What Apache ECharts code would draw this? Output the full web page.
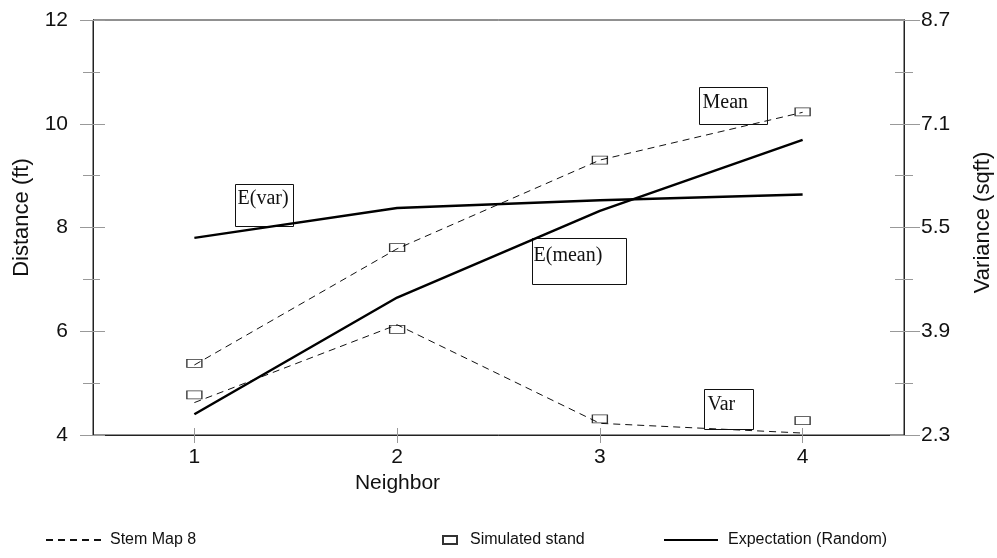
<!DOCTYPE html>
<html><head><meta charset="utf-8">
<script src="https://cdn.jsdelivr.net/npm/echarts@6/dist/echarts.min.js"></script>
<style>html,body{margin:0;padding:0;background:#fff}#c{width:997px;height:558px}</style>
</head><body><div id="c"></div>
<script>
const neighbors = ['1', '2', '3', '4'];
const stemMean = [5.35, 7.59, 9.30, 10.22];
const stemVar = [2.80, 4.00, 2.48, 2.33];
const simMean = [5.38, 7.61, 9.30, 10.23];
const simVar = [2.92, 3.93, 2.55, 2.52];
const expMean = [4.40, 6.65, 8.32, 9.69];
const expVar = [5.34, 5.80, 5.92, 6.01];
const distTicks = [4, 6, 8, 10, 12];
const varTicks = [2.3, 3.9, 5.5, 7.1, 8.7];

const SANS = 'Liberation Sans, Arial, sans-serif';
const SERIF = 'Liberation Serif, Times New Roman, serif';
const AX = '#222';
const TK = '#999';

const distInt = distTicks[1] - distTicks[0];
const varInt = Math.round((varTicks[1] - varTicks[0]) * 10) / 10;

function yAx(pos, ticksArr, interval, opts) {
  const base = {
    type: 'value', position: pos, min: ticksArr[0], max: ticksArr[ticksArr.length - 1],
    interval: interval, splitLine: { show: false },
    axisLine: { show: true, lineStyle: { color: AX, width: 1 } },
    minorTick: { show: true, splitNumber: 2, length: opts.minorLen, lineStyle: { color: TK, width: 1 } },
    axisTick: { show: true, inside: opts.inside, length: opts.len, lineStyle: { color: TK, width: 1 } },
    axisLabel: { show: !!opts.labels, margin: opts.margin || 8, fontFamily: SANS, fontSize: 21, color: '#111',
      formatter: opts.fmt }
  };
  return Object.assign(base, opts.extra || {});
}

const option = {
  animation: false,
  backgroundColor: '#fff',
  grid: { left: 93, right: 93, top: 20, bottom: 123, outerBoundsMode: 'none', containLabel: false,
    show: true, borderColor: AX, borderWidth: 1, backgroundColor: 'transparent' },
  xAxis: [
    { type: 'category', data: neighbors, position: 'bottom', boundaryGap: true,
      axisLine: { show: true, lineStyle: { color: AX, width: 1 } },
      axisTick: { show: true, alignWithLabel: true, length: 8, lineStyle: { color: TK, width: 1 } },
      axisLabel: { margin: 12, fontFamily: SANS, fontSize: 21, color: '#111' },
      name: 'Neighbor', nameLocation: 'middle', nameGap: 38,
      nameTextStyle: { fontFamily: SANS, fontSize: 21, color: '#111', padding: [0, 202, 0, 0] } },
    { type: 'category', data: neighbors, position: 'bottom', boundaryGap: true,
      axisLine: { show: false },
      axisTick: { show: true, inside: true, alignWithLabel: true, length: 7, lineStyle: { color: TK, width: 1 } },
      axisLabel: { show: false } }
  ],
  yAxis: [
    yAx('left', distTicks, distInt, { inside: false, len: 13, minorLen: 10, labels: true, margin: 25,
      fmt: v => String(v),
      extra: { name: 'Distance (ft)', nameLocation: 'middle', nameGap: 60, nameRotate: 90,
        nameTextStyle: { fontFamily: SANS, fontSize: 22, color: '#111', padding: [0, 0, 0, 20] } } }),
    yAx('left', distTicks, distInt, { inside: true, len: 12, minorLen: 7, labels: false }),
    yAx('right', varTicks, varInt, { inside: false, len: 16, minorLen: 9, labels: true, margin: 17,
      fmt: v => v.toFixed(1),
      extra: { name: 'Variance (sqft)', nameLocation: 'middle', nameGap: 68, nameRotate: 90,
        nameTextStyle: { fontFamily: SANS, fontSize: 22, color: '#111', padding: [0, 0, 0, 10] } } }),
    yAx('right', varTicks, varInt, { inside: true, len: 14, minorLen: 9, labels: false })
  ],
  legend: [
    { left: 40, top: 527, data: ['Stem Map 8'], itemWidth: 55, itemHeight: 10, selectedMode: false,
      itemStyle: { opacity: 0 },
      textStyle: { fontFamily: SANS, fontSize: 16, color: '#111', padding: [0, 0, 0, 4] } },
    { left: 437, top: 527, data: ['Simulated stand'], itemWidth: 14, itemHeight: 8, selectedMode: false,
      textStyle: { fontFamily: SANS, fontSize: 16, color: '#111', padding: [0, 0, 0, 8] } },
    { left: 658, top: 527, data: ['Expectation (Random)'], itemWidth: 54, itemHeight: 10, selectedMode: false,
      itemStyle: { opacity: 0 },
      textStyle: { fontFamily: SANS, fontSize: 16, color: '#111', padding: [0, 0, 0, 5] } }
  ],
  series: [
    { name: 'Stem Map 8', type: 'line', xAxisIndex: 0, yAxisIndex: 0, data: stemMean, symbol: 'none',
      itemStyle: { color: '#111' }, lineStyle: { color: '#111', width: 1, type: [7, 5] }, z: 3 },
    { name: 'Stem Map 8', type: 'line', xAxisIndex: 0, yAxisIndex: 2, data: stemVar, symbol: 'none',
      itemStyle: { color: '#111' }, lineStyle: { color: '#111', width: 1, type: [7, 5] }, z: 3 },
    { name: 'Simulated stand', type: 'scatter', xAxisIndex: 0, yAxisIndex: 0, data: simMean, symbol: 'rect',
      symbolSize: [15, 8], itemStyle: { color: 'rgba(255,255,255,0)', borderColor: '#000', borderWidth: 1 }, z: 4 },
    { name: 'Simulated stand', type: 'scatter', xAxisIndex: 0, yAxisIndex: 2, data: simVar, symbol: 'rect',
      symbolSize: [15, 8], itemStyle: { color: 'rgba(255,255,255,0)', borderColor: '#000', borderWidth: 1 }, z: 4 },
    { name: 'Expectation (Random)', type: 'line', xAxisIndex: 0, yAxisIndex: 0, data: expMean, symbol: 'none',
      itemStyle: { color: '#000' }, lineStyle: { color: '#000', width: 2.5 }, z: 3 },
    { name: 'Expectation (Random)', type: 'line', xAxisIndex: 0, yAxisIndex: 2, data: expVar, symbol: 'none',
      itemStyle: { color: '#000' }, lineStyle: { color: '#000', width: 2.5 }, z: 3 }
  ],
  graphic: [
    { type: 'group', left: 697, top: 85, z: 1, children: [
      { type: 'rect', shape: { x: 0, y: 0, width: 68, height: 37 }, style: { fill: 'none', stroke: '#111', lineWidth: 1 } },
      { type: 'text', x: 3, y: 5, style: { text: 'Mean', font: '20px ' + SERIF, fill: '#111' } } ] },
    { type: 'group', left: 233, top: 182, z: 1, children: [
      { type: 'rect', shape: { x: 0, y: 0, width: 58, height: 42 }, style: { fill: 'none', stroke: '#111', lineWidth: 1 } },
      { type: 'text', x: 2, y: 4, style: { text: 'E(var)', font: '20px ' + SERIF, fill: '#111' } } ] },
    { type: 'group', left: 530, top: 236, z: 1, children: [
      { type: 'rect', shape: { x: 0, y: 0, width: 94, height: 46 }, style: { fill: 'none', stroke: '#111', lineWidth: 1 } },
      { type: 'text', x: 1, y: 7, style: { text: 'E(mean)', font: '20px ' + SERIF, fill: '#111' } } ] },
    { type: 'group', left: 702, top: 387, z: 1, children: [
      { type: 'rect', shape: { x: 0, y: 0, width: 49, height: 40 }, style: { fill: 'none', stroke: '#111', lineWidth: 1 } },
      { type: 'text', x: 3, y: 5, style: { text: 'Var', font: '20px ' + SERIF, fill: '#111' } } ] }
  ]
};

const chart = echarts.init(document.getElementById('c'), null, { renderer: 'canvas' });
chart.setOption(option);
</script>
</body></html>
